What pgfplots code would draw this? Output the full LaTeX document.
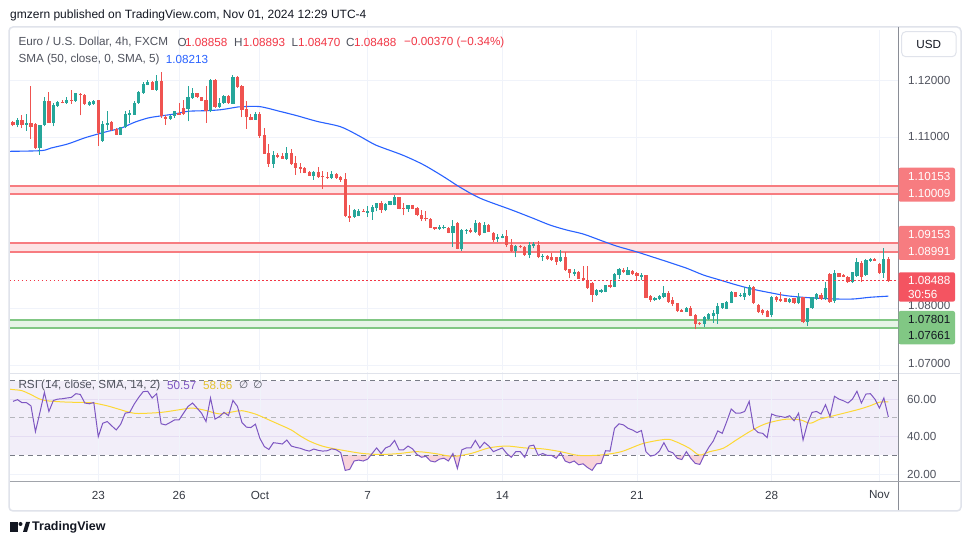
\documentclass[border=0pt]{standalone}
\usepackage{pgfplots}
\pgfplotsset{compat=1.18}
\usepackage{pgfplotstable}
\usepackage{fontspec}
\setmainfont{Liberation Sans}
\newfontfamily\dejavu{DejaVu Sans}
\definecolor{tvgreen}{HTML}{26A69A}
\definecolor{tvred}{HTML}{EF5350}
\definecolor{tvblue}{HTML}{2962FF}
\definecolor{tvpurple}{HTML}{7E57C2}
\definecolor{tvyellow}{HTML}{FDD835}
\definecolor{tvgrid}{HTML}{F0F3FA}
\definecolor{tvtext}{HTML}{131722}
\definecolor{tvgray}{HTML}{787B86}
\definecolor{legtext}{HTML}{50535E}
\definecolor{zonered}{HTML}{F77C80}
\definecolor{zoneredfill}{HTML}{FDE3E4}
\definecolor{zonegreen}{HTML}{81C784}
\definecolor{zonegreenfill}{HTML}{E6F4E7}
\definecolor{lastred}{HTML}{F23645}
\definecolor{rsiband}{HTML}{F2EEF9}
\definecolor{framec}{HTML}{E0E3EB}
\definecolor{divc}{HTML}{8A8D96}
\definecolor{oversold}{HTML}{F8D3DB}

\pgfplotstableread{
i o h l c
1 1.11210 1.11339 1.11175 1.11310
3 1.11234 1.11409 1.11117 1.11251
6 1.10812 1.11222 1.10695 1.11210
7 1.11210 1.11708 1.11193 1.11643
9 1.11251 1.11602 1.11193 1.11573
10 1.11555 1.11643 1.11538 1.11620
12 1.11608 1.11708 1.11590 1.11655
14 1.11643 1.11784 1.11620 1.11772
17 1.11561 1.11631 1.11555 1.11614
18 1.11585 1.11655 1.11573 1.11643
20 1.10929 1.11280 1.10918 1.11234
21 1.11222 1.11456 1.11134 1.11251
24 1.11046 1.11187 1.11040 1.11175
25 1.11175 1.11456 1.11163 1.11409
26 1.11397 1.11479 1.11245 1.11427
27 1.11397 1.11631 1.11397 1.11602
28 1.11602 1.11807 1.11585 1.11795
29 1.11778 1.11965 1.11766 1.11942
30 1.11924 1.12000 1.11912 1.11971
32 1.11836 1.12099 1.11819 1.11994
35 1.11321 1.11397 1.11310 1.11380
36 1.11368 1.11468 1.11339 1.11456
39 1.11503 1.11895 1.11280 1.11708
40 1.11690 1.11865 1.11672 1.11778
44 1.11456 1.12023 1.11438 1.12012
46 1.11526 1.11690 1.11514 1.11602
47 1.11602 1.11737 1.11585 1.11731
49 1.11585 1.12099 1.11585 1.12058
54 1.11310 1.11444 1.11304 1.11409
58 1.10532 1.10766 1.10462 1.10684
61 1.10626 1.10830 1.10608 1.10725
67 1.10327 1.10415 1.10257 1.10391
71 1.10286 1.10403 1.10274 1.10356
76 1.09602 1.09748 1.09590 1.09719
77 1.09625 1.09748 1.09613 1.09713
79 1.09690 1.09801 1.09602 1.09702
80 1.09690 1.09807 1.09555 1.09772
81 1.09760 1.09848 1.09702 1.09848
83 1.09731 1.09848 1.09702 1.09830
84 1.09819 1.09889 1.09807 1.09877
85 1.09819 1.09994 1.09807 1.09947
88 1.09748 1.09819 1.09690 1.09819
95 1.09397 1.09455 1.09374 1.09432
96 1.09409 1.09461 1.09385 1.09432
98 1.09327 1.09549 1.09081 1.09444
100 1.09035 1.09385 1.09011 1.09374
101 1.09368 1.09391 1.09304 1.09380
103 1.09344 1.09549 1.09327 1.09502
105 1.09327 1.09520 1.09315 1.09461
108 1.09210 1.09304 1.09169 1.09257
109 1.09245 1.09304 1.09228 1.09274
112 1.09011 1.09111 1.08894 1.09099
115 1.08935 1.09157 1.08877 1.09111
116 1.09105 1.09157 1.09052 1.09122
118 1.08906 1.08947 1.08836 1.08923
122 1.08836 1.09023 1.08818 1.08906
125 1.08614 1.08684 1.08567 1.08637
130 1.08233 1.08333 1.08216 1.08321
131 1.08292 1.08333 1.08274 1.08321
132 1.08292 1.08415 1.08280 1.08409
134 1.08380 1.08625 1.08368 1.08602
135 1.08584 1.08701 1.08514 1.08684
137 1.08584 1.08719 1.08578 1.08672
140 1.08567 1.08614 1.08496 1.08584
143 1.08157 1.08192 1.08134 1.08175
144 1.08157 1.08228 1.08146 1.08216
145 1.08192 1.08391 1.08175 1.08263
150 1.07941 1.08029 1.07935 1.08011
154 1.07725 1.07870 1.07666 1.07853
155 1.07806 1.07912 1.07795 1.07900
156 1.07865 1.07970 1.07748 1.07912
157 1.07900 1.08087 1.07725 1.08046
158 1.08000 1.08099 1.07990 1.08087
159 1.07990 1.08128 1.07980 1.08116
160 1.08099 1.08304 1.08087 1.08292
162 1.08228 1.08263 1.08204 1.08239
163 1.08192 1.08380 1.08146 1.08263
164 1.08233 1.08409 1.08216 1.08380
169 1.07882 1.08216 1.07841 1.08192
173 1.08105 1.08175 1.08087 1.08163
175 1.08087 1.08263 1.08075 1.08192
177 1.07765 1.08010 1.07689 1.07999
178 1.07999 1.08204 1.07990 1.08192
179 1.08157 1.08274 1.08146 1.08251
181 1.08157 1.08467 1.08146 1.08362
183 1.08134 1.08672 1.08099 1.08625
187 1.08467 1.08643 1.08450 1.08631
188 1.08567 1.08877 1.08555 1.08818
190 1.08584 1.08859 1.08567 1.08847
191 1.08836 1.08877 1.08818 1.08859
194 1.08625 1.09052 1.08537 1.08859
}\greenc

\pgfplotstableread{
i o h l c
0 1.11269 1.11292 1.11193 1.11210
2 1.11298 1.11397 1.11163 1.11222
4 1.11251 1.11906 1.10976 1.11187
5 1.11234 1.11251 1.10795 1.10812
8 1.11643 1.11795 1.11251 1.11251
11 1.11626 1.11649 1.11596 1.11608
13 1.11655 1.11825 1.11590 1.11643
15 1.11766 1.11778 1.11386 1.11748
16 1.11748 1.11760 1.11573 1.11585
19 1.11655 1.11655 1.10853 1.11076
22 1.11263 1.11280 1.11105 1.11122
23 1.11152 1.11163 1.11040 1.11046
31 1.11971 1.11982 1.11836 1.11836
33 1.11994 1.12146 1.11339 1.11368
34 1.11362 1.11397 1.11222 1.11321
37 1.11427 1.11602 1.11409 1.11409
38 1.11514 1.11661 1.11397 1.11415
41 1.11778 1.11778 1.11690 1.11702
42 1.11702 1.11713 1.11631 1.11643
43 1.11655 1.11895 1.11251 1.11456
45 1.12012 1.12023 1.11514 1.11526
48 1.11731 1.11748 1.11585 1.11596
50 1.12058 1.12070 1.11865 1.11877
51 1.11906 1.11924 1.11351 1.11485
52 1.11503 1.11631 1.11152 1.11351
53 1.11356 1.11415 1.11298 1.11310
55 1.11415 1.11444 1.10988 1.11017
56 1.11035 1.11163 1.10707 1.10713
57 1.10725 1.10883 1.10485 1.10532
59 1.10684 1.10725 1.10631 1.10649
60 1.10672 1.10725 1.10620 1.10626
62 1.10725 1.10801 1.10520 1.10538
63 1.10544 1.10672 1.10345 1.10467
64 1.10485 1.10544 1.10368 1.10450
65 1.10461 1.10485 1.10368 1.10380
66 1.10397 1.10403 1.10321 1.10327
68 1.10397 1.10473 1.10286 1.10309
69 1.10321 1.10415 1.10099 1.10309
70 1.10309 1.10385 1.10274 1.10298
72 1.10362 1.10374 1.10274 1.10286
73 1.10298 1.10315 1.10216 1.10257
74 1.10268 1.10374 1.09596 1.09613
75 1.09613 1.09807 1.09514 1.09602
78 1.09713 1.09748 1.09690 1.09702
82 1.09848 1.09877 1.09672 1.09731
86 1.09947 1.09959 1.09737 1.09748
87 1.09760 1.09848 1.09631 1.09748
89 1.09813 1.09819 1.09737 1.09743
90 1.09760 1.09772 1.09613 1.09631
91 1.09643 1.09731 1.09526 1.09573
92 1.09590 1.09702 1.09526 1.09578
93 1.09573 1.09584 1.09409 1.09409
94 1.09420 1.09432 1.09374 1.09385
97 1.09415 1.09432 1.09315 1.09327
99 1.09491 1.09520 1.09035 1.09035
102 1.09368 1.09403 1.09315 1.09356
104 1.09502 1.09520 1.09269 1.09286
106 1.09461 1.09479 1.09339 1.09344
107 1.09327 1.09344 1.09169 1.09198
110 1.09269 1.09374 1.09081 1.09111
111 1.09111 1.09210 1.08994 1.09011
113 1.09099 1.09111 1.09052 1.09081
114 1.09081 1.09093 1.08923 1.08935
117 1.09111 1.09187 1.08877 1.08894
119 1.08918 1.08935 1.08847 1.08859
120 1.08906 1.08964 1.08830 1.08847
121 1.08894 1.08906 1.08760 1.08818
123 1.08894 1.08994 1.08660 1.08672
124 1.08684 1.08695 1.08526 1.08614
126 1.08643 1.08654 1.08514 1.08514
127 1.08526 1.08742 1.08485 1.08496
128 1.08496 1.08742 1.08339 1.08350
129 1.08450 1.08467 1.08116 1.08233
133 1.08409 1.08496 1.08350 1.08380
136 1.08672 1.08701 1.08614 1.08649
138 1.08660 1.08672 1.08590 1.08602
139 1.08619 1.08643 1.08485 1.08567
141 1.08584 1.08584 1.08175 1.08187
142 1.08216 1.08233 1.08116 1.08146
146 1.08274 1.08304 1.08099 1.08116
147 1.08150 1.08204 1.08040 1.08070
148 1.08087 1.08099 1.07941 1.07952
149 1.07970 1.07987 1.07946 1.07952
151 1.08011 1.08040 1.07859 1.07865
152 1.07882 1.07900 1.07631 1.07725
153 1.07748 1.07765 1.07701 1.07725
161 1.08280 1.08292 1.08192 1.08204
165 1.08380 1.08391 1.08075 1.08087
166 1.08058 1.08070 1.07923 1.07929
167 1.07970 1.07981 1.07882 1.07912
168 1.07958 1.07970 1.07841 1.07853
170 1.08204 1.08216 1.08116 1.08146
171 1.08163 1.08280 1.08116 1.08146
172 1.08175 1.08186 1.08105 1.08116
174 1.08175 1.08186 1.08075 1.08087
176 1.08192 1.08204 1.07736 1.07765
180 1.08233 1.08263 1.08146 1.08157
182 1.08600 1.08625 1.08099 1.08116
184 1.08613 1.08625 1.08543 1.08555
185 1.08590 1.08602 1.08543 1.08555
186 1.08555 1.08567 1.08450 1.08456
189 1.08801 1.08836 1.08467 1.08555
192 1.08859 1.08877 1.08836 1.08847
193 1.08777 1.08789 1.08602 1.08625
195 1.08858 1.08893 1.08470 1.08488
}\redc

\pgfplotstableread{
i s
-0.7 1.10754
6.3 1.10766
8.5 1.10812
12.2 1.10883
15.9 1.10988
18.95 1.11058
21.15 1.11105
24.15 1.11163
27.05 1.11263
30.1 1.11339
32.3 1.11368
36 1.11409
39 1.11456
43.4 1.11468
46.4 1.11485
50.1 1.11532
51.3 1.11538
55 1.11538
59.4 1.11456
63.2 1.11380
67.7 1.11280
72.9 1.11187
76.6 1.11046
80.3 1.10883
82.5 1.10812
86.9 1.10684
91.4 1.10520
95.8 1.10315
99.5 1.10128
104.1 1.09930
111.1 1.09725
115.9 1.09578
119.6 1.09461
123.3 1.09374
127 1.09304
130.7 1.09198
134.4 1.09093
138.8 1.08993
143.4 1.08877
146.4 1.08800
150.1 1.08702
153.8 1.08584
157.5 1.08496
161.2 1.08409
164.9 1.08333
168.6 1.08274
172.3 1.08221
176 1.08193
179.7 1.08175
183.4 1.08163
187.2 1.08163
190.9 1.08193
195 1.08213
}\smaline

\pgfplotstableread{
i r
0 58.9
1 59.8
2 58.2
3 58.2
4 56.5
5 42.7
6 53.0
7 63.7
8 53.5
9 59.4
10 60.1
11 60.3
12 60.7
13 61.0
14 63.0
15 62.6
16 58.0
17 57.6
18 58.3
19 40.0
20 47.2
21 48.1
22 45.8
23 43.6
24 46.7
25 52.6
26 53.0
27 57.4
28 61.0
29 64.1
30 64.3
31 60.7
32 63.0
33 46.9
34 46.3
35 47.6
36 49.0
37 49.0
38 52.6
39 56.2
40 58.0
41 55.3
42 52.6
43 48.1
44 60.7
45 49.4
46 50.8
47 53.0
48 51.3
49 59.4
50 56.2
51 47.6
52 45.1
53 44.9
54 46.7
55 39.1
56 34.7
57 33.2
58 36.8
59 36.5
60 36.1
61 38.2
62 35.0
63 34.3
64 33.8
65 32.9
66 32.3
67 33.4
68 32.7
69 32.3
70 32.5
71 33.5
72 33.0
73 31.5
74 22.0
75 22.5
76 27.0
77 27.5
78 27.0
79 28.0
80 31.0
81 34.0
82 31.0
83 34.0
84 35.0
85 38.0
86 33.0
87 33.0
88 35.0
89 33.5
90 30.5
91 29.0
92 29.5
93 27.0
94 26.5
95 28.0
96 28.5
97 27.0
98 31.0
99 23.0
100 33.0
101 34.0
102 34.0
103 38.0
104 34.0
105 37.0
106 35.0
107 32.0
108 33.0
109 34.0
110 31.0
111 29.0
112 32.0
113 32.0
114 29.0
115 35.0
116 35.5
117 30.0
118 31.0
119 30.0
120 30.0
121 28.5
122 31.5
123 27.0
124 26.0
125 27.0
126 25.0
127 25.5
128 23.5
129 22.0
130 25.5
131 25.7
132 32.5
133 32.3
134 44.5
135 46.9
136 46.3
137 44.5
138 43.6
139 42.2
140 43.3
141 32.0
142 29.6
143 30.2
144 32.3
145 36.8
146 32.3
147 31.4
148 28.4
149 27.8
150 32.0
151 28.4
152 25.7
153 25.2
154 30.2
155 34.3
156 37.7
157 43.1
158 41.8
159 48.1
160 54.8
161 52.6
162 52.6
163 53.5
164 58.9
165 44.5
166 42.2
167 41.8
168 39.5
169 52.1
170 51.2
171 50.8
172 50.3
173 51.2
174 48.5
175 52.6
176 38.2
177 47.2
178 53.0
179 53.5
180 52.1
181 57.1
182 50.8
183 61.6
184 60.1
185 59.2
186 58.0
187 60.1
188 64.3
189 58.0
190 62.8
191 63.0
192 60.1
193 55.3
194 60.7
195 50.57
}\rsi

\pgfplotstableread{
i m
-0.7 65.4
0 65.2
2 64.6
4 62.5
6 60.1
8 59.1
12 58.5
16 58.3
18 58.0
21 56.5
24 54.4
26 53.0
28 52.4
33 53.0
37 54.4
40 55.3
43 54.0
46 52.2
49 53.3
51 53.9
54 52.1
57 49.0
60 45.8
62 43.6
64 40.4
66 37.7
68 35.7
70 34.3
74 32.5
78 31.0
82 30.5
86 31.0
90 32.0
94 31.0
98 29.5
102 31.0
106 34.0
110 35.0
114 34.0
118 33.5
122 32.0
126 30.0
130.8 30.2
135.5 32.0
140.4 36.4
145.5 38.6
147.7 37.3
150.7 33.8
152.9 30.2
155.2 32.0
158.2 33.8
161.1 38.2
164.1 42.7
167 46.3
169.4 48.1
172.4 49.4
175.4 49.0
177.6 47.2
179.8 49.4
182.8 51.2
185.8 53.0
188.7 54.8
190.9 56.5
193.1 58.5
195 58.66
}\rsima

\begin{document}
\begin{tikzpicture}[x=1pt,y=1pt,font=\fontsize{11.7}{13}\selectfont]
\fill[white] (0,0) rectangle (970,545);

% ---------- price pane ----------
\begin{axis}[at={(10pt,175pt)}, anchor=south west, width=888pt, height=340pt, scale only axis,
  xmin=-0.668, xmax=197.15, ymin=1.069175, ymax=1.128825,
  axis line style={draw=none}, tick style={draw=none},
  xtick={19,37,55,79,109,139,169,193}, xticklabels={},
  ytick={1.07,1.08,1.09,1.10,1.11,1.12}, yticklabels={},
  grid=major, grid style={tvgrid, line width=1pt}]
  % zones
  \fill[zoneredfill] (axis cs:-0.668,1.10009) rectangle (axis cs:197.15,1.10153);
  \draw[zonered, line width=2pt] (axis cs:-0.668,1.10009) -- (axis cs:197.15,1.10009);
  \draw[zonered, line width=2pt] (axis cs:-0.668,1.10153) -- (axis cs:197.15,1.10153);
  \fill[zoneredfill] (axis cs:-0.668,1.08991) rectangle (axis cs:197.15,1.09153);
  \draw[zonered, line width=2pt] (axis cs:-0.668,1.08991) -- (axis cs:197.15,1.08991);
  \draw[zonered, line width=2pt] (axis cs:-0.668,1.09153) -- (axis cs:197.15,1.09153);
  \fill[zonegreenfill] (axis cs:-0.668,1.07661) rectangle (axis cs:197.15,1.07801);
  \draw[zonegreen, line width=2pt] (axis cs:-0.668,1.07661) -- (axis cs:197.15,1.07661);
  \draw[zonegreen, line width=2pt] (axis cs:-0.668,1.07801) -- (axis cs:197.15,1.07801);
  % SMA 50
  \addplot[tvblue, line width=1.1pt, smooth, mark=none] table[x=i, y=s] {\smaline};
  % wicks
  \addplot[draw=none, mark=none, error bars/.cd, y dir=plus, y explicit, error mark=none,
    error bar style={line width=1pt, draw=tvgreen}]
    table[x=i, y=l, y error expr={\thisrow{h}-\thisrow{l}}] {\greenc};
  \addplot[draw=none, mark=none, error bars/.cd, y dir=plus, y explicit, error mark=none,
    error bar style={line width=1pt, draw=tvred}]
    table[x=i, y=l, y error expr={\thisrow{h}-\thisrow{l}}] {\redc};
  % bodies
  \addplot[draw=none, mark=none, error bars/.cd, y dir=both, y explicit, error mark=none,
    error bar style={line width=3.2pt, draw=tvgreen}]
    table[x=i, y expr={(\thisrow{o}+\thisrow{c})/2}, y error expr={max(abs(\thisrow{c}-\thisrow{o})/2,0.00009)}] {\greenc};
  \addplot[draw=none, mark=none, error bars/.cd, y dir=both, y explicit, error mark=none,
    error bar style={line width=3.2pt, draw=tvred}]
    table[x=i, y expr={(\thisrow{o}+\thisrow{c})/2}, y error expr={max(abs(\thisrow{c}-\thisrow{o})/2,0.00009)}] {\redc};
  % last price line
  \draw[lastred, line width=1pt, dash pattern=on 1.5pt off 2.5pt] (axis cs:-0.668,1.08488) -- (axis cs:197.15,1.08488);
\end{axis}

% ---------- RSI pane ----------
\begin{axis}[at={(10pt,63pt)}, anchor=south west, width=888pt, height=110pt, scale only axis,
  xmin=-0.668, xmax=197.15, ymin=15.78, ymax=74.60,
  axis line style={draw=none}, tick style={draw=none},
  xtick=\empty, ytick=\empty]
  \fill[rsiband] (axis cs:-0.668,30) rectangle (axis cs:197.15,70);
  % oversold shading: pink below 30, then white under the RSI curve
  \begin{scope}
    \clip (axis cs:0,10) rectangle (axis cs:195,30);
    \fill[oversold] (axis cs:0,10) rectangle (axis cs:195,30);
    \addplot[fill=white, draw=none, forget plot] table[x=i, y=r] {\rsi} \closedcycle;
  \end{scope}
  \draw[tvgrid] (axis cs:-0.668,20) -- (axis cs:197.15,20);
  \draw[white!40!rsiband!85!tvpurple] (axis cs:-0.668,40) -- (axis cs:197.15,40);
  \draw[white!40!rsiband!85!tvpurple] (axis cs:-0.668,60) -- (axis cs:197.15,60);
  \draw[tvgrid] (axis cs:19,15.78) -- (axis cs:19,74.6);
  \draw[tvgrid] (axis cs:37,15.78) -- (axis cs:37,74.6);
  \draw[tvgrid] (axis cs:55,15.78) -- (axis cs:55,74.6);
  \draw[tvgrid] (axis cs:79,15.78) -- (axis cs:79,74.6);
  \draw[tvgrid] (axis cs:109,15.78) -- (axis cs:109,74.6);
  \draw[tvgrid] (axis cs:139,15.78) -- (axis cs:139,74.6);
  \draw[tvgrid] (axis cs:169,15.78) -- (axis cs:169,74.6);
  \draw[tvgrid] (axis cs:193,15.78) -- (axis cs:193,74.6);
  \draw[tvgray, line width=1pt, dash pattern=on 5pt off 4pt] (axis cs:-0.668,70) -- (axis cs:197.15,70);
  \draw[tvgray!55, line width=1pt, dash pattern=on 5pt off 4pt] (axis cs:-0.668,50) -- (axis cs:197.15,50);
  \draw[tvgray, line width=1pt, dash pattern=on 5pt off 4pt] (axis cs:-0.668,30) -- (axis cs:197.15,30);
  \addplot[tvyellow, line width=1pt, smooth, mark=none] table[x=i, y=m] {\rsima};
  \addplot[tvpurple, line width=1pt, mark=none] table[x=i, y=r] {\rsi};
\end{axis}

% ---------- frame and dividers ----------
\draw[framec, line width=1.5pt, rounded corners=4pt] (9,34) rectangle (961,518);
\draw[framec, line width=1pt] (10,171.5) -- (960,171.5);
\draw[divc, line width=1pt] (898,34.5) -- (898,517.5);
\draw[divc!80, line width=1pt] (10,63) -- (960,63);

% ---------- header ----------
\node[anchor=west, inner sep=0, text=tvtext] at (10,530) {\fontsize{12}{14}\selectfont gmzern published on TradingView.com, Nov 01, 2024 12:29 UTC-4};
\node[anchor=west, inner sep=0, text=legtext] at (18.3,503) {Euro / U.S. Dollar, 4h, FXCM};
\node[anchor=west, inner sep=0, text=legtext] at (177.5,503) {O};
\node[anchor=west, inner sep=0, text=lastred] at (185,503) {1.08858};
\node[anchor=west, inner sep=0, text=legtext] at (234,503) {H};
\node[anchor=west, inner sep=0, text=lastred] at (242.7,503) {1.08893};
\node[anchor=west, inner sep=0, text=legtext] at (291.5,503) {L};
\node[anchor=west, inner sep=0, text=lastred] at (298,503) {1.08470};
\node[anchor=west, inner sep=0, text=legtext] at (346,503) {C};
\node[anchor=west, inner sep=0, text=lastred] at (354,503) {1.08488};
\node[anchor=west, inner sep=0, text=lastred] at (404,503) {−0.00370 (−0.34\%)};
\node[anchor=west, inner sep=0, text=legtext] at (18.3,486) {SMA (50, close, 0, SMA, 5)};
\node[anchor=west, inner sep=0, text=tvblue] at (165.7,486) {1.08213};
\node[anchor=west, inner sep=0, text=legtext] at (18.3,160) {RSI (14, close, SMA, 14, 2)};
\node[anchor=west, inner sep=0, text=tvpurple] at (167,160) {50.57};
\node[anchor=west, inner sep=0, text=tvyellow!90!black] at (203,160) {58.66};
\node[anchor=west, inner sep=0, text=legtext] at (239,160) {{\dejavu\fontsize{10.5}{12}\selectfont ∅\hspace{5pt}∅}};

% ---------- price scale ----------
\draw[framec, line width=1pt, fill=white, rounded corners=4pt] (901.7,488.3) rectangle (956,513.3);
\node[text=tvtext] at (928.8,501) {USD};
\node[anchor=west, inner sep=0, text=legtext] at (908,465) {1.12000};
\node[anchor=west, inner sep=0, text=legtext] at (908,408.3) {1.11000};
\node[anchor=west, inner sep=0, text=legtext] at (908,239.3) {1.08000};
\node[anchor=west, inner sep=0, text=legtext] at (908,181.7) {1.07000};
\fill[zonered, rounded corners=2pt] (898.5,343.3) rectangle (955,377.3);
\node[anchor=west, inner sep=0, text=white] at (908,368.3) {1.10153};
\node[anchor=west, inner sep=0, text=white] at (908,351.7) {1.10009};
\fill[zonered, rounded corners=2pt] (898.5,285) rectangle (955,319);
\node[anchor=west, inner sep=0, text=white] at (908,311) {1.09153};
\node[anchor=west, inner sep=0, text=white] at (908,293.3) {1.08991};
\fill[lastred!85!white, rounded corners=2pt] (898.5,243.3) rectangle (955,272.7);
\node[anchor=west, inner sep=0, text=white] at (908,265) {1.08488};
\node[anchor=west, inner sep=0, text=white] at (908,250.7) {30:56};
\fill[zonegreen, rounded corners=2pt] (898.5,200.7) rectangle (955,234);
\node[anchor=west, inner sep=0, text=tvtext] at (908,225.7) {1.07801};
\node[anchor=west, inner sep=0, text=tvtext] at (908,209.3) {1.07661};
\node[anchor=west, inner sep=0, text=legtext] at (907,145.7) {60.00};
\node[anchor=west, inner sep=0, text=legtext] at (907,108.3) {40.00};
\node[anchor=west, inner sep=0, text=legtext] at (907,71) {20.00};

% ---------- time axis ----------
\node[text=tvtext!85] at (98.3,50) {23};
\node[text=tvtext!85] at (179.1,50) {26};
\node[text=tvtext!85] at (259.9,50) {Oct};
\node[text=tvtext!85] at (367.6,50) {7};
\node[text=tvtext!85] at (502.3,50) {14};
\node[text=tvtext!85] at (637,50) {21};
\node[text=tvtext!85] at (771.6,50) {28};
\node[text=tvtext!85] at (879.4,50) {Nov};

% ---------- logo ----------
\fill[tvtext] (10,13) rectangle (18,23);
\fill[tvtext] (10,20) rectangle (15,23);
\fill[tvtext] (20.5,21) circle (2);
\fill[tvtext] (23,13) -- (26,23) -- (30,23) -- (27,13) -- cycle;
\node[anchor=west, inner sep=0, text=tvtext] at (32,18) {\fontsize{12.5}{14}\selectfont\bfseries TradingView};
\end{tikzpicture}
\end{document}
